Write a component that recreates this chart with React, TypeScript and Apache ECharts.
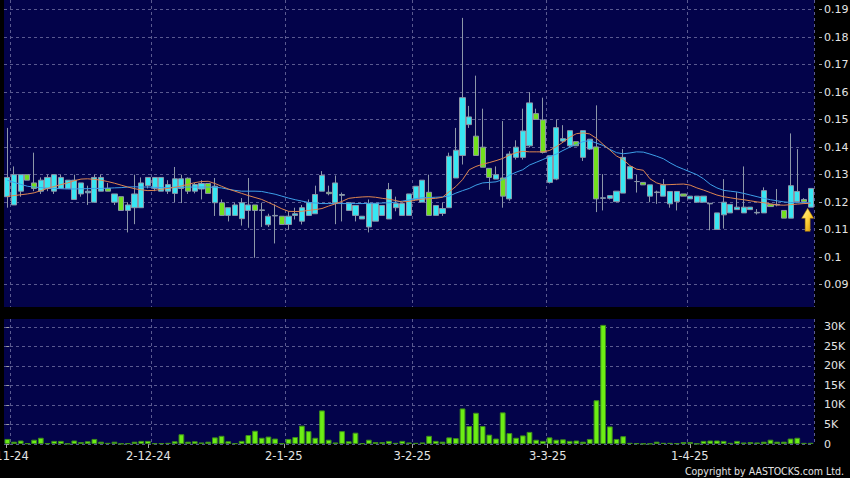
import React, { useEffect, useRef } from 'react';
import * as echarts from 'echarts';

const dates = [
  '2024-11-01','2024-11-04','2024-11-05','2024-11-06','2024-11-07','2024-11-08','2024-11-11','2024-11-12','2024-11-13','2024-11-14',
  '2024-11-15','2024-11-18','2024-11-19','2024-11-20','2024-11-21','2024-11-22','2024-11-25','2024-11-26','2024-11-27','2024-11-28',
  '2024-11-29','2024-12-02','2024-12-03','2024-12-04','2024-12-05','2024-12-06','2024-12-09','2024-12-10','2024-12-11','2024-12-12',
  '2024-12-13','2024-12-16','2024-12-17','2024-12-18','2024-12-19','2024-12-20','2024-12-23','2024-12-24','2024-12-27','2024-12-30',
  '2024-12-31','2025-01-02','2025-01-03','2025-01-06','2025-01-07','2025-01-08','2025-01-09','2025-01-10','2025-01-13','2025-01-14',
  '2025-01-15','2025-01-16','2025-01-17','2025-01-20','2025-01-21','2025-01-22','2025-01-23','2025-01-24','2025-01-27','2025-01-28',
  '2025-02-03','2025-02-04','2025-02-05','2025-02-06','2025-02-07','2025-02-10','2025-02-11','2025-02-12','2025-02-13','2025-02-14',
  '2025-02-17','2025-02-18','2025-02-19','2025-02-20','2025-02-21','2025-02-24','2025-02-25','2025-02-26','2025-02-27','2025-02-28',
  '2025-03-03','2025-03-04','2025-03-05','2025-03-06','2025-03-07','2025-03-10','2025-03-11','2025-03-12','2025-03-13','2025-03-14',
  '2025-03-17','2025-03-18','2025-03-19','2025-03-20','2025-03-21','2025-03-24','2025-03-25','2025-03-26','2025-03-27','2025-03-28',
  '2025-03-31','2025-04-01','2025-04-02','2025-04-03','2025-04-07','2025-04-08','2025-04-09','2025-04-10','2025-04-11','2025-04-14',
  '2025-04-15','2025-04-16','2025-04-17','2025-04-22','2025-04-23','2025-04-24','2025-04-25','2025-04-28','2025-04-29','2025-04-30',
  '2025-05-02'
];

const opens = [
  0.122,0.119,0.124,0.130,0.127,0.124,0.125,0.124,0.125,0.125,
  0.121,0.123,0.1234,0.120,0.124,0.125,0.120,0.122,0.117,0.118,
  0.118,0.126,0.125,0.124,0.124,0.1232,0.125,0.1287,0.124,0.1248,
  0.1268,0.1198,0.1198,0.1152,0.1152,0.114,0.117,0.119,0.117,0.1118,
  0.115,0.1149,0.1119,0.1152,0.1131,0.1152,0.1158,0.124,0.1236,0.1198,
  0.1225,0.117,0.1152,0.1139,0.111,0.1131,0.1152,0.1139,0.118,0.1152,
  0.1152,0.121,0.120,0.1236,0.1152,0.1159,0.118,0.1288,0.137,0.1482,
  0.144,0.140,0.1323,0.1284,0.1288,0.1212,0.1363,0.1363,0.1405,0.1522,
  0.1499,0.1272,0.1284,0.1422,0.1405,0.142,0.1363,0.1393,0.1401,0.1214,
  0.1214,0.1202,0.1233,0.1285,0.1275,0.1272,0.1222,0.1235,0.1222,0.1194,
  0.1202,0.123,0.1212,0.120,0.120,0.1194,0.1101,0.1154,0.1161,0.1173,
  0.1161,0.1173,0.1161,0.1161,0.1192,0.119,0.117,0.1142,0.1202,0.121,
  0.1182
];
const closes = [
  0.129,0.130,0.130,0.128,0.125,0.128,0.129,0.130,0.129,0.128,
  0.128,0.127,0.124,0.129,0.129,0.124,0.123,0.117,0.119,0.123,
  0.127,0.129,0.129,0.129,0.1264,0.1285,0.1285,0.124,0.1264,0.1268,
  0.1232,0.1258,0.1152,0.118,0.119,0.1198,0.119,0.117,0.1172,0.1149,
  0.1152,0.1119,0.1149,0.1158,0.118,0.1198,0.1228,0.1297,0.1231,0.127,
  0.1228,0.1198,0.1188,0.1149,0.1195,0.1195,0.1188,0.1246,0.1195,0.1195,
  0.123,0.1258,0.128,0.1152,0.1188,0.1177,0.1367,0.1389,0.158,0.151,
  0.137,0.1327,0.129,0.130,0.1222,0.1375,0.140,0.1459,0.1561,0.1501,
  0.1381,0.1369,0.1471,0.1431,0.146,0.1405,0.146,0.1429,0.1212,0.1216,
  0.1224,0.124,0.1363,0.1329,0.1275,0.1263,0.1263,0.1237,0.1263,0.1239,
  0.1239,0.1222,0.1222,0.1222,0.1222,0.1196,0.1161,0.120,0.1192,0.1182,
  0.1182,0.1182,0.1163,0.1242,0.1184,0.1192,0.1142,0.126,0.1239,0.1202,
  0.125
];
const highs = [
  0.147,0.133,0.130,0.130,0.138,0.129,0.130,0.130,0.130,0.128,
  0.130,0.127,0.126,0.130,0.130,0.127,0.123,0.122,0.120,0.130,
  0.129,0.129,0.129,0.129,0.128,0.1328,0.130,0.129,0.127,0.128,
  0.1268,0.1288,0.121,0.118,0.1198,0.1215,0.1288,0.119,0.1198,0.1158,
  0.1192,0.1149,0.1167,0.118,0.119,0.121,0.126,0.1313,0.126,0.1297,
  0.1235,0.1198,0.1188,0.1149,0.121,0.1195,0.1188,0.127,0.122,0.1195,
  0.123,0.1258,0.128,0.130,0.1188,0.1198,0.138,0.147,0.187,0.155,
  0.166,0.154,0.1323,0.133,0.1495,0.1385,0.1425,0.154,0.160,0.154,
  0.158,0.1369,0.150,0.148,0.146,0.142,0.146,0.1429,0.1552,0.1302,
  0.1224,0.124,0.1393,0.1329,0.130,0.1272,0.1263,0.1242,0.1284,0.1239,
  0.1239,0.123,0.1222,0.1222,0.1222,0.1196,0.1161,0.1284,0.1192,0.1236,
  0.133,0.1182,0.1175,0.1254,0.1192,0.1248,0.117,0.145,0.1393,0.1215,
  0.125
];
const lows = [
  0.118,0.119,0.122,0.128,0.124,0.123,0.124,0.123,0.125,0.125,
  0.121,0.122,0.119,0.120,0.124,0.124,0.119,0.117,0.109,0.112,
  0.118,0.125,0.124,0.124,0.123,0.120,0.1197,0.123,0.1232,0.121,
  0.1232,0.115,0.115,0.113,0.1152,0.1115,0.1107,0.0998,0.111,0.111,
  0.105,0.1119,0.110,0.1137,0.1119,0.1152,0.1158,0.124,0.1225,0.112,
  0.113,0.117,0.113,0.1139,0.109,0.1131,0.1152,0.1139,0.1167,0.1152,
  0.1152,0.121,0.120,0.1152,0.1152,0.115,0.118,0.1288,0.1337,0.147,
  0.137,0.1327,0.1245,0.1284,0.118,0.1205,0.1355,0.1355,0.1399,0.150,
  0.1377,0.1268,0.128,0.1416,0.1399,0.1405,0.135,0.139,0.1164,0.117,
  0.121,0.120,0.1233,0.1285,0.1235,0.1263,0.120,0.1194,0.1222,0.118,
  0.117,0.1222,0.1212,0.120,0.120,0.1098,0.1101,0.1104,0.1161,0.1173,
  0.1161,0.1173,0.1155,0.1161,0.1184,0.1185,0.1142,0.1142,0.1202,0.1202,
  0.1182
];
const volumes = [
  1300,600,900,200,1100,1600,200,800,800,100,
  900,500,700,1300,600,300,600,100,200,600,
  800,800,200,200,300,700,2500,600,700,400,
  600,1700,2100,700,200,800,2300,3400,1600,1900,
  1400,200,1300,1800,4700,3300,1600,8600,1100,400,
  3300,700,2900,200,1100,500,500,800,300,800,
  400,300,400,2100,800,600,1700,1500,9100,4600,
  8000,4600,2400,1400,8100,2800,1600,2200,3100,1100,
  800,1700,1100,1200,800,900,600,1300,11200,30500,
  4500,1300,2000,300,200,100,100,600,300,300,
  200,500,500,100,800,900,900,800,300,800,
  400,500,400,600,1100,600,600,1400,1600,300,
  300
];
const ma10 = [
  0.1221,0.1224,0.1227,0.1230,0.1234,0.1242,0.1250,0.1257,0.1264,0.1270,
  0.1278,0.1284,0.1285,0.1283,0.1280,0.1275,0.1269,0.1262,0.1255,0.1249,
  0.1245,0.1242,0.1243,0.1247,0.1250,0.1254,0.1259,0.1265,0.1271,0.1275,
  0.1276,0.1268,0.1258,0.1248,0.1240,0.1232,0.1224,0.1217,0.1210,0.1199,
  0.1188,0.1176,0.1167,0.1166,0.1167,0.1170,0.1173,0.1177,0.1186,0.1194,
  0.1203,0.1214,0.1217,0.1219,0.1220,0.1218,0.1214,0.1211,0.1206,0.1201,
  0.1203,0.1207,0.1211,0.1213,0.1214,0.1218,0.1238,0.1257,0.1282,0.1318,
  0.1330,0.1338,0.1344,0.1351,0.1359,0.1371,0.1380,0.1385,0.1383,0.1383,
  0.1383,0.1388,0.1402,0.1418,0.1436,0.1449,0.1452,0.1448,0.1432,0.1410,
  0.1390,0.1368,0.1355,0.1333,0.1320,0.1316,0.1285,0.1270,0.1263,0.1264,
  0.1265,0.1266,0.1262,0.1252,0.1244,0.1235,0.1226,0.1220,0.1216,0.1212,
  0.1209,0.1205,0.1201,0.1198,0.1194,0.1190,0.1189,0.1191,0.1193,0.1195,
  0.1196
];
const ma20 = [
  0.1280,0.1272,0.1265,0.1258,0.1255,0.1253,0.1251,0.1250,0.1249,0.1248,
  0.1248,0.1249,0.1249,0.1250,0.1250,0.1251,0.1252,0.1253,0.1255,0.1256,
  0.1255,0.1255,0.1254,0.1253,0.1253,0.1254,0.1254,0.1255,0.1255,0.1255,
  0.1255,0.1254,0.1252,0.1247,0.1243,0.1240,0.1240,0.1240,0.1239,0.1234,
  0.1229,0.1222,0.1215,0.1209,0.1204,0.1199,0.1197,0.1195,0.1195,0.1195,
  0.1195,0.1195,0.1195,0.1195,0.1196,0.1196,0.1197,0.1198,0.1200,0.1204,
  0.1208,0.1213,0.1216,0.1217,0.1218,0.1219,0.1222,0.1233,0.1242,0.1250,
  0.1262,0.1270,0.1272,0.1274,0.1282,0.1298,0.1309,0.1318,0.1335,0.1345,
  0.1355,0.1366,0.1375,0.1388,0.1400,0.1410,0.1420,0.1424,0.1415,0.1406,
  0.1392,0.1380,0.1376,0.1379,0.1383,0.1382,0.1375,0.1367,0.1358,0.1343,
  0.1330,0.1320,0.1310,0.1300,0.1285,0.1265,0.1252,0.1243,0.1240,0.1237,
  0.1232,0.1226,0.1220,0.1214,0.1209,0.1205,0.1201,0.1199,0.1198,0.1198,
  0.1198
];

const tickIndex = [0, 21, 41, 60, 80, 101];
const tickLabels = ['1-11-24', '2-12-24', '2-1-25', '3-2-25', '3-3-25', '1-4-25'];
const priceTicks = [0.09, 0.1, 0.11, 0.12, 0.13, 0.14, 0.15, 0.16, 0.17, 0.18, 0.19];
const volumeTicks = [0, 5000, 10000, 15000, 20000, 25000, 30000];

const NAVY = '#03034a';
const GRIDLINE = '#5a5a90';
const TEXT = '#e4e4e4';
const FONT = 'DejaVu Sans';

export default function App() {
  const ref = useRef<HTMLDivElement>(null);

  useEffect(() => {
    const chart = echarts.init(ref.current as HTMLDivElement, null, { renderer: 'svg' });
    const candleData = dates.map((_, i) => [opens[i], closes[i], lows[i], highs[i]]);
    const vSplitIdx = tickIndex.map((k) => k + 1);
    const vSplit = {
      show: true,
      interval: (idx: number) => vSplitIdx.indexOf(idx) >= 0,
      lineStyle: { color: GRIDLINE, type: [3, 3] as any, width: 1 },
    };
    const last = dates.length - 1;

    chart.setOption({
      animation: false,
      backgroundColor: '#000000',
      grid: [
        {
          left: 4, right: 36, top: 0, height: 307, show: true, backgroundColor: NAVY, borderWidth: 0,
          containLabel: false, outerBoundsMode: 'none',
        },
        {
          left: 4, right: 36, top: 319, height: 125, show: true, backgroundColor: NAVY, borderWidth: 0,
          containLabel: false, outerBoundsMode: 'none',
        },
      ],
      xAxis: [
        {
          type: 'category', gridIndex: 0, data: dates, boundaryGap: true,
          axisLine: { show: false }, axisTick: { show: false }, axisLabel: { show: false },
          splitLine: vSplit,
        },
        {
          type: 'category', gridIndex: 1, data: dates, boundaryGap: true, position: 'bottom',
          axisLine: { show: false }, axisTick: { show: false }, axisLabel: { show: false },
          splitLine: vSplit,
        },
        {
          type: 'value', gridIndex: 1, position: 'bottom', min: -0.34, max: 119.35,
          axisLine: { show: false },
          splitLine: { show: false },
          axisTick: { show: true, customValues: tickIndex, length: 4, lineStyle: { color: '#a0a0a0' } },
          axisLabel: {
            show: true, customValues: tickIndex, margin: 6,
            color: TEXT, fontFamily: FONT, fontSize: 11.5,
            formatter: (v: number) => {
              const k = tickIndex.indexOf(Math.round(v));
              return k >= 0 ? tickLabels[k] : '';
            },
          },
        },
      ],
      yAxis: [
        {
          type: 'value', gridIndex: 0, position: 'right', offset: 5,
          min: 0.0819, max: 0.1935, scale: true,
          axisLine: { show: false },
          axisTick: { show: true, customValues: priceTicks, length: 3, lineStyle: { color: '#a0a0a0' } },
          axisLabel: {
            customValues: priceTicks, margin: 5, color: TEXT, fontFamily: FONT, fontSize: 11,
            formatter: (v: number) => String(parseFloat(v.toFixed(2))),
          },
          splitLine: { show: true, lineStyle: { color: GRIDLINE, type: [3, 3] as any, width: 1 } },
        },
        {
          type: 'value', gridIndex: 1, position: 'right', offset: 5,
          min: 0, max: 32000,
          axisLine: { show: false },
          axisTick: { show: true, customValues: volumeTicks, length: 3, lineStyle: { color: '#a0a0a0' } },
          axisLabel: {
            customValues: volumeTicks, margin: 5, color: TEXT, fontFamily: FONT, fontSize: 11,
            formatter: (v: number) => (v === 0 ? '0' : `${Math.round(v / 1000)}K`),
          },
          splitLine: { show: true, lineStyle: { color: GRIDLINE, type: [3, 3] as any, width: 1 } },
        },
      ],
      series: [
        {
          type: 'candlestick', xAxisIndex: 0, yAxisIndex: 0, data: candleData,
          barWidth: '84%', z: 2,
          itemStyle: {
            color: '#38e6f2', color0: '#72e01e',
            borderColor: '#8d97a8', borderColor0: '#8d97a8', borderWidth: 1,
          },
          markPoint: {
            silent: true,
            symbol: 'path://M6,0 L12,10 L8.5,10 L8.5,23 L3.5,23 L3.5,10 L0,10 Z',
            symbolSize: [12, 23],
            symbolOffset: [-3, '55%'],
            label: { show: false },
            itemStyle: {
              color: new echarts.graphic.LinearGradient(0, 0, 1, 1, [
                { offset: 0, color: '#fff6a0' },
                { offset: 0.5, color: '#ffd23a' },
                { offset: 1, color: '#d09000' },
              ]),
              borderColor: '#b07a00', borderWidth: 0.5,
            },
            data: [{ coord: [dates[last], lows[last]] }],
          },
        },
        {
          type: 'line', xAxisIndex: 0, yAxisIndex: 0, data: ma20, symbol: 'none', z: 3,
          lineStyle: { color: '#3d9fe8', width: 1 },
        },
        {
          type: 'line', xAxisIndex: 0, yAxisIndex: 0, data: ma10, symbol: 'none', z: 4,
          lineStyle: { color: '#de8650', width: 1 },
        },
        {
          type: 'bar', xAxisIndex: 1, yAxisIndex: 1, data: volumes, barWidth: '86%',
          itemStyle: { color: '#6ced14', borderColor: '#3c8c1c', borderWidth: 1 },
        },
      ],
      graphic: [
        {
          type: 'text', right: 6, top: 465,
          style: {
            text: 'Copyright by AASTOCKS.com Ltd.', fill: TEXT,
            fontFamily: 'DejaVu Sans Condensed', fontSize: 10.5,
          },
        },
      ],
    });

    return () => chart.dispose();
  }, []);

  return (
    <div
      ref={ref}
      style={{ position: 'fixed', left: 0, top: 0, width: 850, height: 478, background: '#000' }}
    />
  );
}
